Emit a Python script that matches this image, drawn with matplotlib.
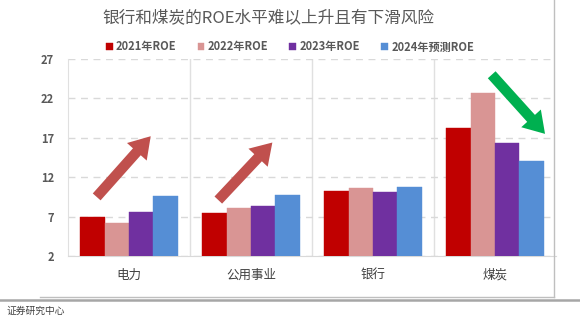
import numpy as np
import matplotlib
matplotlib.use("Agg")
import matplotlib.pyplot as plt
from matplotlib.patches import FancyArrowPatch
from matplotlib.lines import Line2D

plt.rcParams['font.family'] = ['Noto Sans CJK SC', 'DejaVu Sans']

# 数据
categories = ["电力", "公用事业", "银行", "煤炭"]
series_names = ["2021年ROE", "2022年ROE", "2023年ROE", "2024年预测ROE"]
roe_2021 = [7.0, 7.4, 10.2, 18.3]
roe_2022 = [6.2, 8.1, 10.6, 22.7]
roe_2023 = [7.6, 8.4, 10.1, 16.4]
roe_2024 = [9.6, 9.8, 10.7, 14.1]
y_ticks = [2, 7, 12, 17, 22, 27]

series = [roe_2021, roe_2022, roe_2023, roe_2024]
colors = ["#C00000", "#D99594", "#7030A0", "#558ED5"]

fig = plt.figure(figsize=(5.8, 3.26), dpi=100)
ax = fig.add_axes([68 / 580, 1 - 256 / 326, (556 - 68) / 580, (256 - 59) / 326])

x = np.arange(len(categories))
w = 0.2
for i, (vals, c) in enumerate(zip(series, colors)):
    ax.bar(x + (i - 1.5) * w, vals, width=w, color=c, label=series_names[i],
           edgecolor=c, linewidth=0.3, zorder=3)

ax.set_xlim(-0.5, 3.5)
ax.set_ylim(2, 27)
ax.set_yticks(y_ticks)
ax.set_xticks(x)
ax.set_xticklabels(categories, fontsize=9, color="#404040")
for lab in ax.get_yticklabels():
    lab.set_fontweight("bold")
    lab.set_fontsize(8)
    lab.set_color("#595959")
ax.tick_params(axis="x", length=0, pad=9)
ax.tick_params(axis="y", length=0, pad=10)

# 网格
ax.yaxis.grid(True, linestyle=(0, (5, 4)), color="#D9D9D9", linewidth=1, zorder=0)
for sep in [0.5, 1.5, 2.5]:
    ax.axvline(sep, color="#E0E0E0", linewidth=1, zorder=0)
for s in ["top", "right"]:
    ax.spines[s].set_visible(False)
ax.spines["left"].set_color("#E0E0E0")
ax.spines["bottom"].set_color("#D9D9D9")

# 箭头
arrows = [
    ((-0.265, 9.5), (0.178, 17.2), "#C0504D"),
    ((0.732, 9.1), (1.175, 16.4), "#C0504D"),
    ((2.973, 25.0), (3.41, 17.5), "#00B050"),
]
for start, end, col in arrows:
    ax.add_patch(FancyArrowPatch(start, end,
                                 arrowstyle="simple,head_width=19,head_length=15,tail_width=7.5",
                                 mutation_scale=1, color=col, lw=0, zorder=5,
                                 shrinkA=0, shrinkB=0))

# 标题和图例
fig.text(0.462, 0.945, "银行和煤炭的ROE水平难以上升且有下滑风险", ha="center", va="center",
         fontsize=12, color="#595959")
leg = fig.legend(*ax.get_legend_handles_labels(), loc="center", bbox_to_anchor=(0.5, 0.856),
                 ncol=4, frameon=False, fontsize=8, handlelength=0.6, handleheight=0.6,
                 handletextpad=0.3, columnspacing=1.9)
for t in leg.get_texts():
    t.set_color("#595959")
    t.set_fontweight("bold")

# 边框
fig.add_artist(Line2D([554 / 580, 554 / 580], [1, 1 - 297 / 326], color="#BFBFBF", lw=1))
fig.add_artist(Line2D([40 / 580, 554 / 580], [1 - 297 / 326, 1 - 297 / 326], color="#BFBFBF", lw=1))
fig.add_artist(Line2D([0, 1], [1 - 300 / 326, 1 - 300 / 326], color="#A6A6A6", lw=1.8))

fig.text(0.012, 1 - 311 / 326, "证券研究中心", ha="left", va="center", fontsize=7,
         color="#404040", style="italic")

fig.savefig("out.png", dpi=100)
